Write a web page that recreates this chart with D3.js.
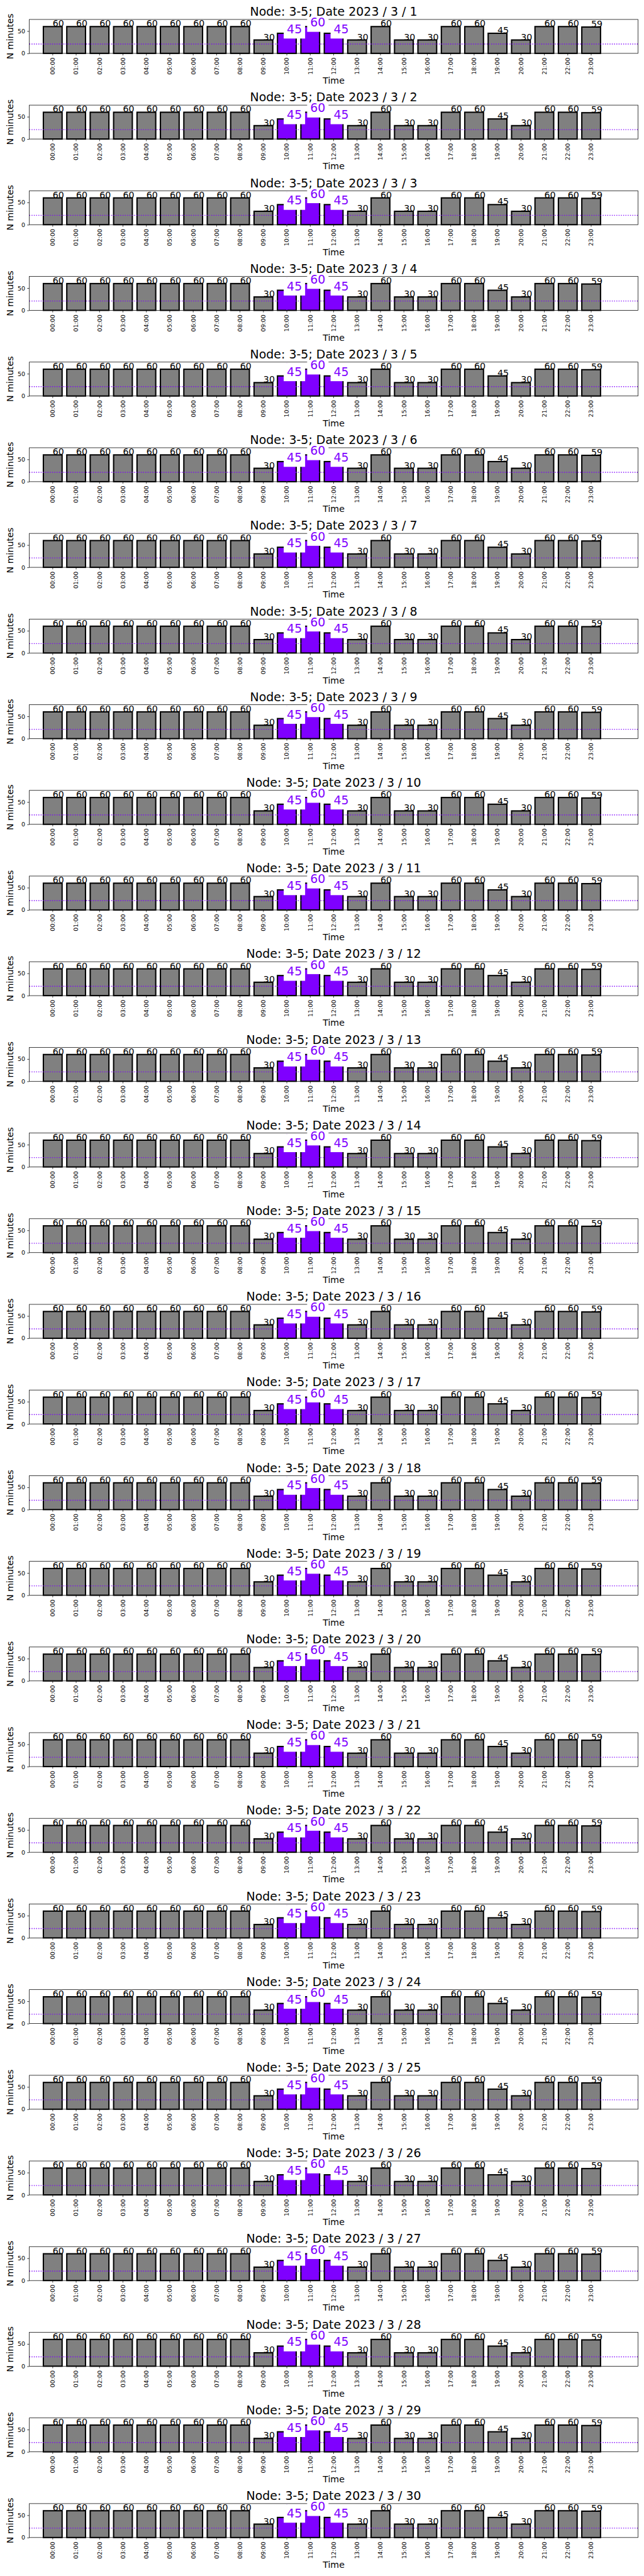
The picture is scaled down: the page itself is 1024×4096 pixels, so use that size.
<!DOCTYPE html>
<html>
<head>
<meta charset="utf-8">
<script src="https://cdn.jsdelivr.net/npm/d3@7"></script>
<style>
  body { margin: 0; background: #fff; }
  svg { display: block; }
  text { font-family: "DejaVu Sans", sans-serif; }
</style>
</head>
<body>
<svg id="chart"></svg>
<script>
// ---------------- data ----------------
const nodeName = "3-5";
const year = 2023;
const month = 3;
const days = [1, 2, 3, 4, 5, 6, 7, 8, 9, 10, 11, 12, 13, 14, 15, 16, 17, 18, 19, 20, 21, 22, 23, 24, 25, 26, 27, 28, 29, 30];
const hours = ["00:00", "01:00", "02:00", "03:00", "04:00", "05:00", "06:00", "07:00", "08:00", "09:00", "10:00", "11:00",
               "12:00", "13:00", "14:00", "15:00", "16:00", "17:00", "18:00", "19:00", "20:00", "21:00", "22:00", "23:00"];
const minutes = [60, 60, 60, 60, 60, 60, 60, 60, 60, 30, 45, 60, 45, 30, 60, 30, 30, 60, 60, 45, 30, 60, 60, 59];
const highlightHours = ["10:00", "11:00", "12:00"];
const markerHour = "10:00";
const thresholdMinutes = 21;
const yTickValues = [0, 50];
const yMax = 76;
const xLabel = "Time";
const yLabel = "N minutes";

// ---------------- layout (reference px scaled) ----------------
const S = 1024 / 1500;
const PURPLE = "#7f00ff";
const GRAY = "#808080";

const svg = d3.select("#chart").attr("width", 1024).attr("height", 4096);
svg.append("rect").attr("width", 1024).attr("height", 4096).attr("fill", "#fff");

const axLeft = 68.3 * S, axRight = 1486 * S, axH = 79 * S;
const firstTop = 45.3, period = 199.52;
const slot = (axRight - axLeft) / 26;

const x = d3.scaleBand()
  .domain(hours)
  .range([axLeft + slot * 0.5, axRight - slot * 1.5])
  .paddingInner(0.2)
  .paddingOuter(0.1);
const y = d3.scaleLinear().domain([0, yMax]).range([axH, 0]);

const tickFont = 13.9 * S, labelFont = 20.8 * S, bigFont = 27.8 * S;
const tickLen = 4.86 * S, tickPad = 4.86 * S;
const spineW = 1.1 * S;
const barStroke = 3 * S;
const dotW = 2 * S;
const dash = `${2 * S},${3.3 * S}`;

days.forEach((day, i) => {
  const g = svg.append("g").attr("transform", `translate(0,${(firstTop + i * period) * S})`);

  // bars
  g.selectAll("rect.bar").data(hours).join("rect")
    .attr("class", "bar")
    .attr("x", h => x(h))
    .attr("width", x.bandwidth())
    .attr("y", (h, k) => y(minutes[k]))
    .attr("height", (h, k) => y(0) - y(minutes[k]))
    .attr("fill", h => highlightHours.includes(h) ? PURPLE : GRAY)
    .attr("stroke", "#000")
    .attr("stroke-width", barStroke);

  // dotted threshold line
  g.append("line")
    .attr("x1", axLeft).attr("x2", axRight)
    .attr("y1", y(thresholdMinutes)).attr("y2", y(thresholdMinutes))
    .attr("stroke", PURPLE).attr("stroke-width", dotW)
    .attr("stroke-dasharray", dash);

  // dotted vertical marker
  const mx = x(markerHour) + x.bandwidth() / 2;
  g.append("line")
    .attr("x1", mx).attr("x2", mx)
    .attr("y1", y(0)).attr("y2", y(yMax))
    .attr("stroke", PURPLE).attr("stroke-width", dotW)
    .attr("stroke-dasharray", dash);

  // frame (spines)
  g.append("rect")
    .attr("x", axLeft).attr("y", 0)
    .attr("width", axRight - axLeft).attr("height", axH)
    .attr("fill", "none").attr("stroke", "#000").attr("stroke-width", spineW);

  // x axis
  const xa = g.append("g").attr("transform", `translate(0,${axH})`)
    .call(d3.axisBottom(x).tickSize(tickLen).tickPadding(tickPad));
  xa.select(".domain").remove();
  xa.selectAll(".tick line").attr("stroke", "#000").attr("stroke-width", spineW);
  xa.selectAll(".tick text")
    .attr("font-size", tickFont)
    .attr("font-family", "DejaVu Sans")
    .attr("fill", "#000")
    .attr("transform", "rotate(-90)")
    .attr("text-anchor", "end")
    .attr("x", -(tickLen + tickPad))
    .attr("y", 0)
    .attr("dy", "0.35em");

  // y axis
  const ya = g.append("g").attr("transform", `translate(${axLeft},0)`)
    .call(d3.axisLeft(y).tickValues(yTickValues).tickSize(tickLen).tickPadding(tickPad));
  ya.select(".domain").remove();
  ya.selectAll(".tick line").attr("stroke", "#000").attr("stroke-width", spineW);
  ya.selectAll(".tick text").attr("font-size", tickFont).attr("font-family", "DejaVu Sans").attr("fill", "#000");

  // value labels (normal)
  hours.forEach((h, k) => {
    const tx = x(h) + x.bandwidth() / 2;
    const ty = y(minutes[k]);
    if (highlightHours.includes(h)) return;
    g.append("text")
      .attr("x", tx).attr("y", ty)
      .attr("font-size", labelFont)
      .attr("fill", "#000")
      .text(minutes[k]);
  });
  // highlighted labels with white box
  hours.forEach((h, k) => {
    if (!highlightHours.includes(h)) return;
    const tx = x(h) + x.bandwidth() / 2;
    const ty = y(minutes[k]);
    const box = g.append("rect").attr("fill", "#fff");
    const t = g.append("text")
      .attr("x", tx).attr("y", ty)
      .attr("font-size", bigFont)
      .attr("fill", PURPLE)
      .text(minutes[k]);
    const w = t.node().getComputedTextLength();
    const pad = 0.26 * bigFont;
    box.attr("x", tx - pad).attr("width", w + 2 * pad)
       .attr("y", ty - 1.06 * bigFont).attr("height", 1.5 * bigFont);
  });

  // axis labels
  const cx = (axLeft + axRight) / 2;
  g.append("text")
    .attr("x", cx).attr("y", axH + 70.7 * S)
    .attr("text-anchor", "middle")
    .attr("font-size", labelFont)
    .text(xLabel);
  g.append("text")
    .attr("transform", `translate(${30.7 * S},${axH / 2}) rotate(-90)`)
    .attr("text-anchor", "middle")
    .attr("font-size", labelFont)
    .text(yLabel);

  // title
  g.append("text")
    .attr("x", cx).attr("y", -8.5 * S)
    .attr("text-anchor", "middle")
    .attr("font-size", bigFont)
    .text(`Node: ${nodeName}; Date ${year} / ${month} / ${day}`);
});
</script>
</body>
</html>
